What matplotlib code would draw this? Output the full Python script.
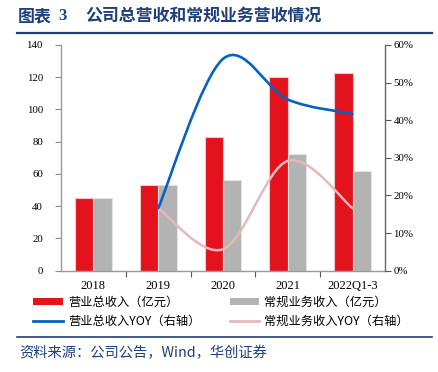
import matplotlib
matplotlib.use("Agg")
import matplotlib.pyplot as plt
from matplotlib.path import Path
from matplotlib.patches import PathPatch, Patch
from matplotlib.lines import Line2D
from matplotlib.ticker import FuncFormatter, FixedLocator
import numpy as np

plt.rcParams['font.family'] = ['Noto Sans CJK SC', 'DejaVu Sans']

categories = ["2018", "2019", "2020", "2021", "2022Q1-3"]
total_rev = [45.4, 53.1, 82.8, 120.0, 122.8]
regular_rev = [45.4, 53.0, 56.0, 72.4, 61.6]
total_yoy = [None, 16.6, 56.3, 45.5, 41.7]
regular_yoy = [None, 16.6, 5.7, 29.2, 16.6]

left_ticks = [0, 20, 40, 60, 80, 100, 120, 140]
right_ticks = [0, 10, 20, 30, 40, 50, 60]

title_prefix = "图表"
title_num = "3"
title_text = "公司总营收和常规业务营收情况"
source = "资料来源：公司公告，Wind，华创证券"
legend_labels = ["营业总收入（亿元）", "常规业务收入（亿元）", "营业总收入YOY（右轴）", "常规业务收入YOY（右轴）"]

RED = '#E3121C'
GRAY = '#B3B3B3'
BLUE = '#0563C0'
PINK = '#E6B9B8'
NAVY = '#1F3F7A'

W, H = 438, 372
fig = plt.figure(figsize=(W / 100, H / 100), dpi=100)
ax = fig.add_axes([61 / W, 1 - 270.7 / H, (385 - 61) / W, (270.7 - 45) / H])

x = np.arange(len(categories))
bw = 0.283
ax.bar(x, total_rev, width=-bw, align='edge', color=RED, edgecolor='#F4C6C6', linewidth=0.8, zorder=2)
ax.bar(x, regular_rev, width=bw, align='edge', color=GRAY, edgecolor='#E2E2E2', linewidth=0.8, zorder=2)
ax.set_xlim(-0.5, len(categories) - 0.5)
ax.set_ylim(0, 140)
ax.set_yticks(left_ticks)
ax.set_yticklabels([str(v) for v in left_ticks], family='Liberation Serif', fontsize=7.8)
ax.tick_params(axis='y', direction='out', length=4, width=0.8, color='#888888', pad=9)

ax.set_xticks(x)
ax.set_xticklabels(categories, family='Liberation Serif', fontsize=9)
ax.tick_params(axis='x', which='major', length=0, pad=7)
ax.xaxis.set_minor_locator(FixedLocator(list(x[:-1] + 0.5)))
ax.tick_params(axis='x', which='minor', direction='out', length=4, width=0.8, color='#555555')

for s in ['top', 'right']:
    ax.spines[s].set_visible(False)
ax.spines['left'].set_color('#999999')
ax.spines['bottom'].set_color('#999999')
ax.spines['left'].set_linewidth(1.0)
ax.spines['bottom'].set_linewidth(1.0)

ax2 = ax.twinx()
ax2.set_ylim(0, 60)
ax2.set_yticks(right_ticks)
ax2.yaxis.set_major_formatter(FuncFormatter(lambda v, p: f"{int(v)}%"))
for t in ax2.get_yticklabels():
    t.set_family('Liberation Serif')
ax2.tick_params(axis='y', direction='out', length=4, width=0.8, color='#555555', pad=2, labelsize=7.8)
for s in ['top', 'left', 'bottom']:
    ax2.spines[s].set_visible(False)
ax2.spines['right'].set_color('#666666')
ax2.spines['right'].set_linewidth(1.0)


def smooth_path(vals):
    pts = [(float(i), float(v)) for i, v in enumerate(vals) if v is not None]
    P = np.array(pts)
    n = len(P)
    verts = [tuple(P[0])]
    codes = [Path.MOVETO]
    for i in range(n - 1):
        p_prev = P[i - 1] if i > 0 else P[i]
        p_next2 = P[i + 2] if i + 2 < n else P[i + 1]
        c1 = P[i] + (P[i + 1] - p_prev) / 6.0
        c2 = P[i + 1] - (p_next2 - P[i]) / 6.0
        verts += [tuple(c1), tuple(c2), tuple(P[i + 1])]
        codes += [Path.CURVE4] * 3
    return Path(verts, codes)


ax2.add_patch(PathPatch(smooth_path(regular_yoy), facecolor='none', edgecolor=PINK, lw=1.8, capstyle='round', zorder=3))
ax2.add_patch(PathPatch(smooth_path(total_yoy), facecolor='none', edgecolor=BLUE, lw=1.9, capstyle='round', zorder=4))

# Title and rules
ty = 1 - 16 / H
fig.text(18 / W, ty, title_prefix, fontsize=12.2, fontweight='bold', color=NAVY, va='center', ha='left')
fig.text(58 / W, ty, title_num, fontsize=12.2, fontweight='bold', color=NAVY, va='center', ha='left',
         family='Liberation Serif')
fig.text(85 / W, ty, title_text, fontsize=12.2, fontweight='bold', color=NAVY, va='center', ha='left')
fig.add_artist(Line2D([17 / W, 432 / W], [1 - 33 / H, 1 - 33 / H], color=NAVY, lw=1.6))
fig.add_artist(Line2D([17 / W, 432 / W], [1 - 337 / H, 1 - 337 / H], color=NAVY, lw=1.2))
fig.text(19 / W, 1 - 353 / H, source, fontsize=10.3, style='italic', color=NAVY, va='center', ha='left')

handles = [Patch(facecolor=RED, edgecolor='none'),
           Line2D([], [], color=BLUE, lw=2.0),
           Patch(facecolor=GRAY, edgecolor='none'),
           Line2D([], [], color=PINK, lw=2.0)]
labels = [legend_labels[0], legend_labels[2], legend_labels[1], legend_labels[3]]
fig.legend(handles, labels, loc='upper left', bbox_to_anchor=(33 / W, 1 - 296 / H), ncol=2,
           frameon=False, fontsize=8.8, handlelength=2.45, handleheight=0.55, handletextpad=0.4,
           columnspacing=2.4, labelspacing=0.5, borderpad=0, borderaxespad=0)

fig.savefig("out.png", dpi=100)
